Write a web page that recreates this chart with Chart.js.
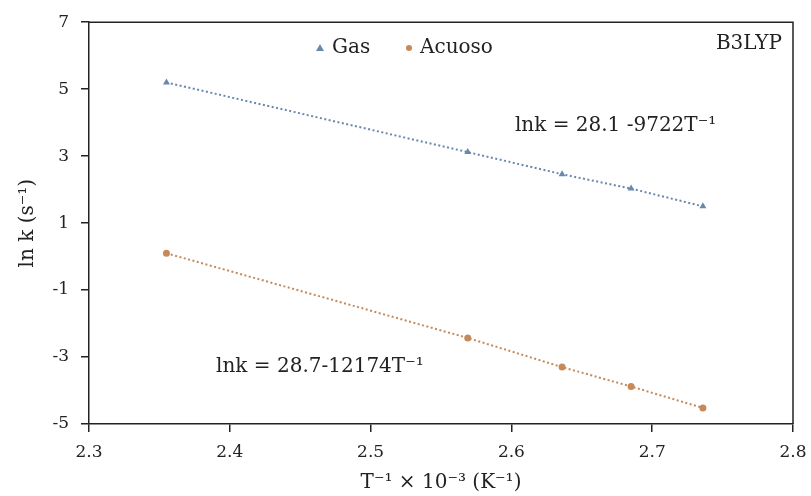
<!DOCTYPE html>
<html>
<head>
<meta charset="utf-8">
<script src="https://cdn.jsdelivr.net/npm/chart.js@4.4.1/dist/chart.umd.min.js"></script>
<style>
  html, body { margin: 0; padding: 0; background: #fff; }
  #wrap { width: 811px; height: 496px; position: relative; }
</style>
</head>
<body>
<div id="wrap"><canvas id="chart"></canvas></div>
<script>
// Data
const xValues = [2.355, 2.569, 2.636, 2.685, 2.736];   // T^-1 x 10^-3
const gasValues = [5.2, 3.12, 2.46, 2.03, 1.5];
const acuosoValues = [0.1, -2.43, -3.3, -3.88, -4.52];
const seriesNames = ['Gas', 'Acuoso'];
const xTicks = [2.3, 2.4, 2.5, 2.6, 2.7, 2.8];
const yTicks = [-5, -3, -1, 1, 3, 5, 7];
const gasEquation = 'lnk = 28.1 -9722T⁻¹';
const acuosoEquation = 'lnk = 28.7-12174T⁻¹';
const methodLabel = 'B3LYP';

const gasColor = '#6889ad';
const acuosoColor = '#c5895a';
const inkColor = '#222';
const serif = '"DejaVu Serif", "Liberation Serif", serif';

function toPoints(xs, ys) {
  return xs.map((x, i) => ({ x: x, y: ys[i] }));
}

// Frame, legend and text labels drawn inside the plot area
const extrasPlugin = {
  id: 'extras',
  afterDraw(chart) {
    const ctx = chart.ctx;
    const area = chart.chartArea;
    const xs = chart.scales.x;
    const ys = chart.scales.y;
    ctx.save();

    // top and right frame
    ctx.strokeStyle = inkColor;
    ctx.lineWidth = 1.5;
    ctx.beginPath();
    ctx.moveTo(area.left, area.top);
    ctx.lineTo(area.right, area.top);
    ctx.lineTo(area.right, area.bottom);
    ctx.stroke();

    // legend
    ctx.font = '20px ' + serif;
    ctx.textBaseline = 'middle';
    const ly = 48;
    ctx.fillStyle = gasColor;
    ctx.beginPath();
    ctx.moveTo(320, ly - 4);
    ctx.lineTo(324, ly + 3);
    ctx.lineTo(316, ly + 3);
    ctx.closePath();
    ctx.fill();
    ctx.fillStyle = inkColor;
    ctx.fillText(seriesNames[0], 332, ly);
    ctx.fillStyle = acuosoColor;
    ctx.beginPath();
    ctx.arc(409, ly, 3, 0, Math.PI * 2);
    ctx.fill();
    ctx.fillStyle = inkColor;
    ctx.fillText(seriesNames[1], 420, ly);

    // method label
    ctx.textAlign = 'right';
    ctx.fillText(methodLabel, area.right - 11, 44);

    // equations
    ctx.font = '20px ' + serif;
    ctx.textAlign = 'center';
    ctx.fillText(gasEquation, xs.getPixelForValue(2.674), ys.getPixelForValue(3.9));
    ctx.fillText(acuosoEquation, xs.getPixelForValue(2.464), ys.getPixelForValue(-3.3));

    ctx.restore();
  }
};

const ctx = document.getElementById('chart');
new Chart(ctx, {
  type: 'scatter',
  data: {
    datasets: [{
      label: seriesNames[0],
      data: toPoints(xValues, gasValues),
      showLine: true,
      borderColor: gasColor,
      borderWidth: 2,
      borderDash: [2, 2.5],
      backgroundColor: gasColor,
      pointStyle: 'triangle',
      pointRadius: 4,
      pointBorderWidth: 0
    }, {
      label: seriesNames[1],
      data: toPoints(xValues, acuosoValues),
      showLine: true,
      borderColor: acuosoColor,
      borderWidth: 2,
      borderDash: [2, 2.5],
      backgroundColor: acuosoColor,
      pointStyle: 'circle',
      pointRadius: 3.5,
      pointBorderWidth: 0
    }]
  },
  options: {
    responsive: true,
    maintainAspectRatio: false,
    animation: false,
    layout: { padding: { top: 22, right: 18, left: 0, bottom: 0 } },
    plugins: {
      legend: { display: false },
      tooltip: { enabled: false }
    },
    scales: {
      x: {
        type: 'linear',
        min: 2.3,
        max: 2.8,
        afterBuildTicks: function(scale) {
          scale.ticks = xTicks.map(v => ({ value: v }));
        },
        afterFit: function(scale) {
          scale.height = 72;
          scale.paddingRight = 0;
          scale.paddingLeft = 0;
        },
        ticks: {
          color: inkColor,
          font: { family: serif, size: 17 },
          padding: 10,
          maxRotation: 0,
          callback: v => v.toFixed(1)
        },
        grid: { drawOnChartArea: false, drawTicks: true, tickLength: 8, color: inkColor, lineWidth: 1.5 },
        border: { color: inkColor, width: 1.5 },
        title: {
          display: true,
          text: 'T⁻¹ × 10⁻³ (K⁻¹)',
          color: inkColor,
          font: { family: serif, size: 20 },
          padding: { top: 0, bottom: 1 }
        }
      },
      y: {
        min: -5,
        max: 7,
        afterBuildTicks: function(scale) {
          scale.ticks = yTicks.map(v => ({ value: v }));
        },
        afterFit: function(scale) {
          scale.width = 89;
        },
        ticks: {
          color: inkColor,
          font: { family: serif, size: 17 },
          padding: 12
        },
        grid: { drawOnChartArea: false, drawTicks: true, tickLength: 8, color: inkColor, lineWidth: 1.5 },
        border: { color: inkColor, width: 1.5 },
        title: {
          display: true,
          text: 'ln k (s⁻¹)',
          color: inkColor,
          font: { family: serif, size: 20 },
          padding: { top: 16, bottom: 0 }
        }
      }
    }
  },
  plugins: [extrasPlugin]
});
</script>
</body>
</html>
